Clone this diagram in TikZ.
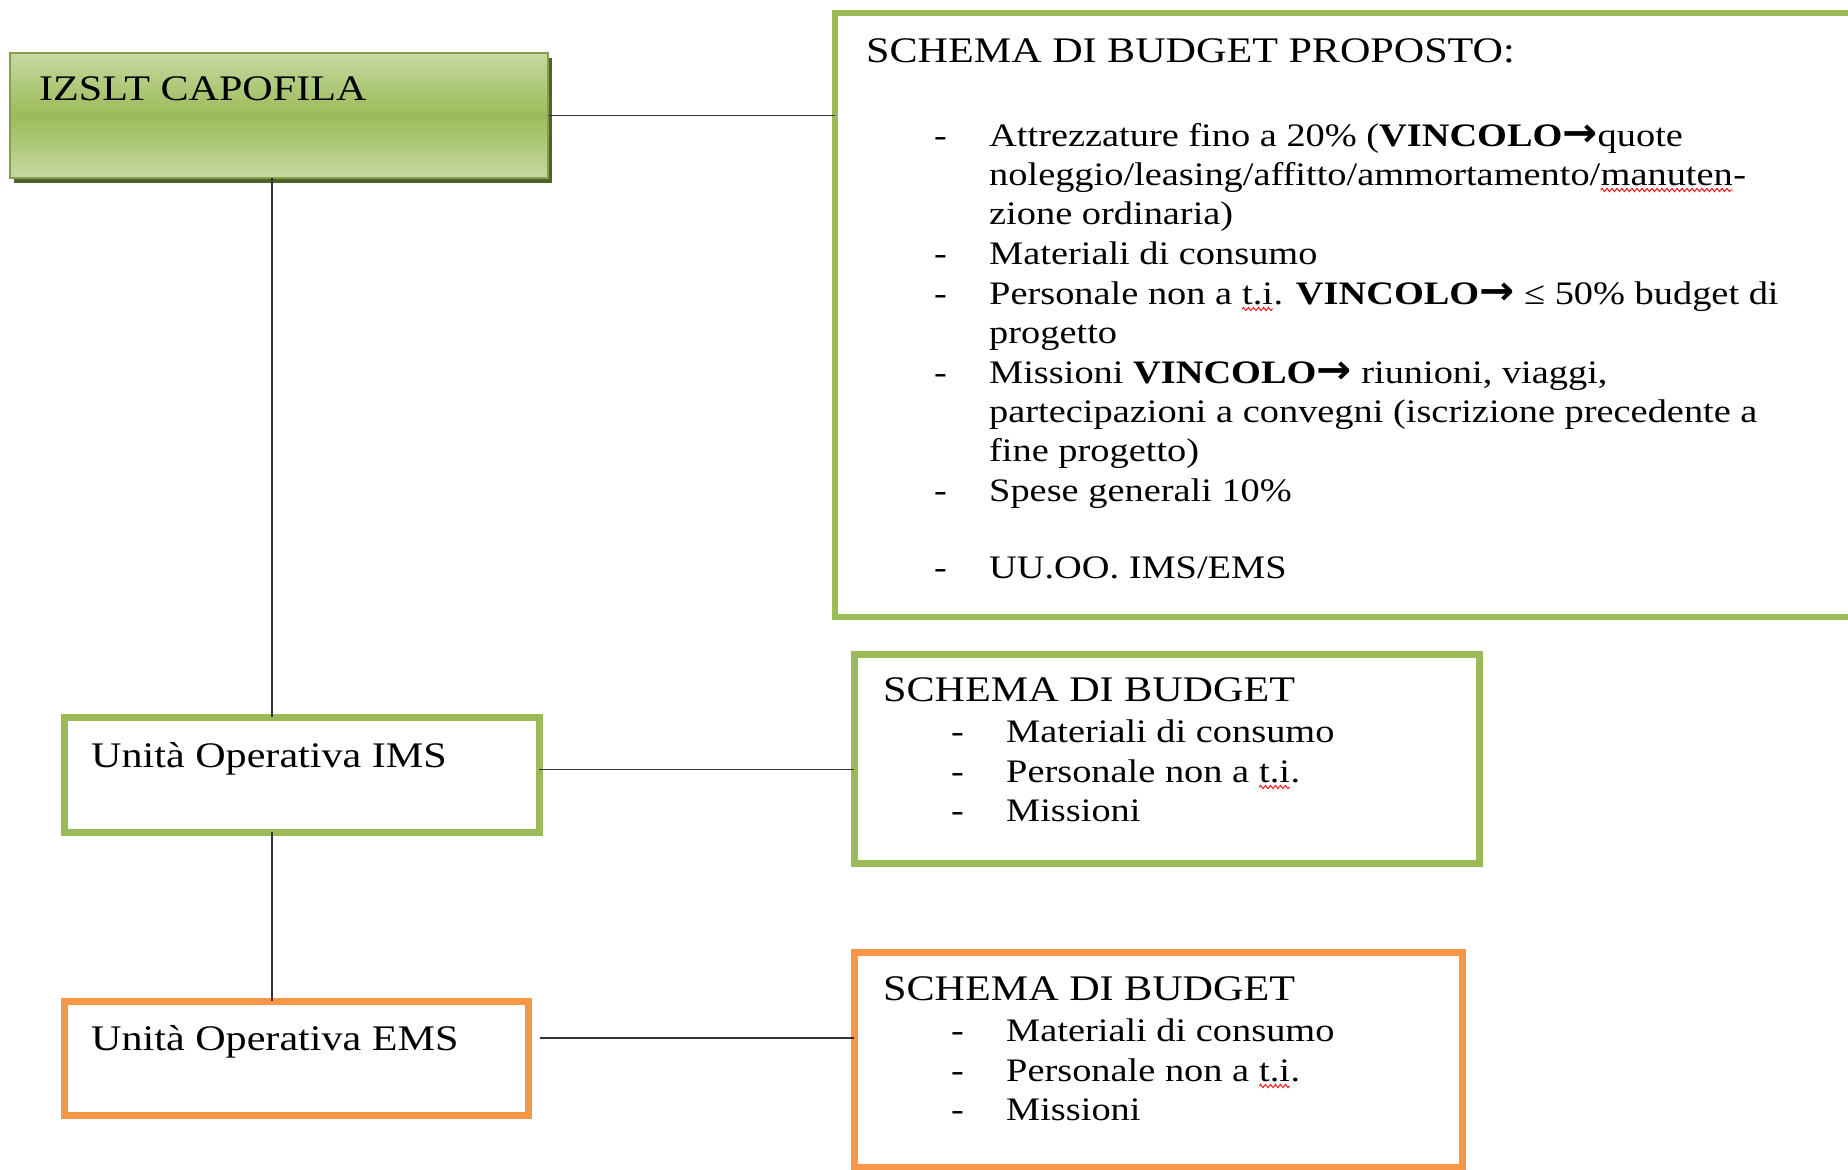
\documentclass[tikz,border=0pt]{standalone}
\usepackage{fontspec}
\setmainfont{Liberation Serif}[FakeStretch=1.17]
\newfontfamily\arrowfont{DejaVu Sans}[FakeStretch=1.05]
\usetikzlibrary{positioning,calc,shadows,decorations.pathmorphing}

\definecolor{olivegreen}{HTML}{9BBB59}
\definecolor{palegreen}{HTML}{C6D9A1}
\definecolor{darkolive}{HTML}{4F6228}
\definecolor{softorange}{HTML}{F79646}

\newcommand\titlesize{\fontsize{36}{40}\selectfont}
\newcommand\listsize{\fontsize{32.8}{39.5}\selectfont}
\newcommand\vinc{\textbf{VINCOLO}{\arrowfont\bfseries\fontsize{40}{40}\selectfont →}}

\tikzset{
  frame/.style={anchor=north west, inner sep=0pt, outer sep=0pt},
  greenframe/.style={frame, draw=olivegreen, line width=7pt},
  orangeframe/.style={frame, draw=softorange, line width=7pt},
  headbox/.style={frame, draw=olivegreen!85!black, line width=1.5pt,
    top color=palegreen, bottom color=palegreen, middle color=olivegreen,
    drop shadow={shadow xshift=4pt, shadow yshift=-5pt, fill=darkolive, opacity=1}},
  link/.style={draw=black!80, line width=1.5pt},
  txt/.style={anchor=base west, inner sep=0pt},
  item/.style={txt, font=\listsize},
  typo/.style={draw=red, line width=0.9pt, decorate,
    decoration={zigzag, amplitude=1.6pt, segment length=5pt}}
}

\newcommand\spellmark[1]{\tikz[baseline=(w.base)]{\node[inner sep=0pt, outer sep=0pt, anchor=base west] (w) {#1};
  \draw[typo] ([yshift=-5pt]w.base west) -- ([yshift=-5pt]w.base east);}}

\begin{document}
\begin{tikzpicture}[x=1pt, y=-1pt, font=\titlesize]
\clip (0,0) rectangle (1848,1170);
\fill[white] (0,0) rectangle (1848,1170);

% boxes
\node[headbox, minimum width=538pt, minimum height=125pt] (izslt) at (10,53) {};
\node[greenframe, line width=6.5pt, minimum width=1030pt, minimum height=604pt] (budget) at (835,13) {};
\node[greenframe, minimum width=475pt, minimum height=115pt] (ims) at (64,717) {};
\node[greenframe, minimum width=625pt, minimum height=209pt] (sbims) at (854,654) {};
\node[orangeframe, minimum width=464pt, minimum height=114pt] (ems) at (64,1001) {};
\node[orangeframe, minimum width=608pt, minimum height=215pt] (sbems) at (854,952) {};

% connectors
\coordinate (trunk) at (272,0);
\draw[link] (izslt.east) -- (izslt.east -| budget.west);
\draw[link] (izslt.south -| trunk) -- (ims.north -| trunk);
\draw[link] (ims.south -| trunk) -- (ems.north -| trunk);
\draw[link] ([yshift=5pt]ims.east) -- ([yshift=5pt]ims.east -| sbims.west);
\draw[link] ([xshift=12pt,yshift=20pt]ems.east) -- ([yshift=20pt]ems.east -| sbems.west);

% left labels
\node[txt] (izsltlabel) at (39,100) {IZSLT CAPOFILA};
\node[txt] (imslabel) at (91,767) {Unità Operativa IMS};
\node[txt] (emslabel) at (91,1050) {Unità Operativa EMS};

% proposed budget
\node[txt] (budgettitle) at (866,62) {SCHEMA DI BUDGET PROPOSTO:};
\foreach \y in {146,264,304,383,501,578}
  \node[item] (dash\y) at (934,\y) {-};
\foreach \y/\line in {146/{Attrezzature fino a 20\% (\vinc quote},
    185/{noleggio/leasing/affitto/ammortamento/\spellmark{manuten}-},
    224/{zione ordinaria)},
    264/{Materiali di consumo},
    304/{Personale non a \spellmark{t.i}. \vinc\ ≤ 50\% budget di},
    343/{progetto},
    383/{Missioni \vinc\ riunioni, viaggi,},
    422/{partecipazioni a convegni (iscrizione precedente a},
    461/{fine progetto)},
    501/{Spese generali 10\%},
    578/{UU.OO. IMS/EMS}}
  \node[item] (item\y) at (989,\y) {\line};

% unit budgets
\foreach \top/\name in {701/ims, 1000/ems} {
  \node[txt] (title\name) at (883,\top) {SCHEMA DI BUDGET};
  \foreach \dy/\line in {41/{Materiali di consumo}, 81/{Personale non a \spellmark{t.i}.}, 120/{Missioni}} {
    \node[item] (dash\name\dy) at (951,\top+\dy) {-};
    \node[item] (item\name\dy) at (1006,\top+\dy) {\line};
  }
}
\end{tikzpicture}
\end{document}
